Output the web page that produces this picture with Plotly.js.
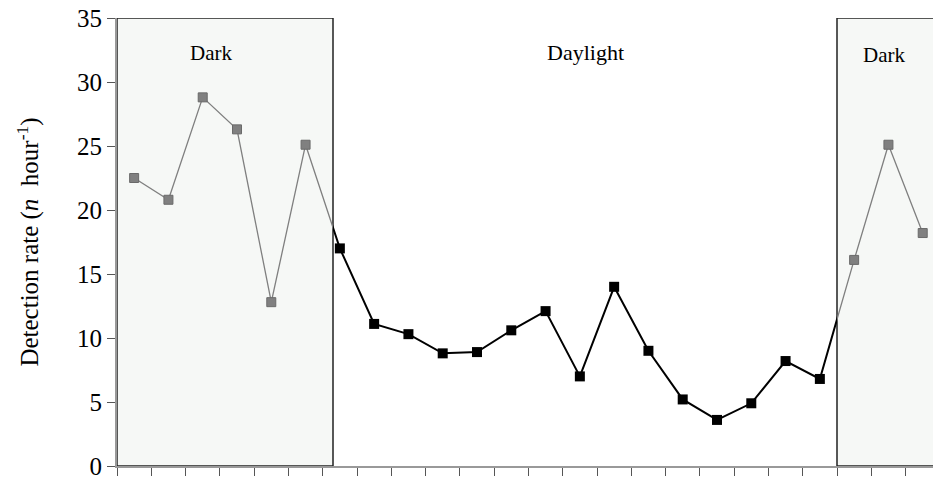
<!DOCTYPE html>
<html>
<head>
<meta charset="utf-8">
<script src="https://cdn.plot.ly/plotly-3.0.1.min.js"></script>
<style>html,body{margin:0;padding:0;background:#fff;}#chart{width:933px;height:481px;}</style>
</head>
<body>
<div id="chart"></div>
<script>
// Hourly detection rates (24 consecutive hours)
const darkStartValues = [22.5, 20.8, 28.8, 26.3, 12.8, 25.1];
const daylightValues = [17.0, 11.1, 10.3, 8.8, 8.9, 10.6, 12.1, 7.0, 14.0, 9.0, 5.2, 3.6, 4.9, 8.2, 6.8];
const darkEndValues = [16.1, 25.1, 18.2];
const periodLabels = ["Dark", "Daylight", "Dark"];
const yTickValues = [0, 5, 10, 15, 20, 25, 30, 35];

const allValues = darkStartValues.concat(daylightValues, darkEndValues);
const idx = allValues.map((_, i) => i);
const nStart = darkStartValues.length;
const nDay = daylightValues.length;
const dayFirst = nStart, dayLast = nStart + nDay - 1;

// boundaries of shaded (dark) periods in category units
const xMin = -0.5, xMax = 23.3;
const b1 = 5.8, b2 = 20.5;
const span = xMax - xMin;
const f1 = (b1 - xMin) / span, f2 = (b2 - xMin) / span;

const grayLine = {color: '#7f7f7f', width: 1.3};
const blackLine = {color: '#000', width: 2};

const traces = [
  // gray line, first dark period (clipped to its own sub-area)
  {x: idx.slice(0, nStart + 1), y: allValues.slice(0, nStart + 1), xaxis: 'x2', yaxis: 'y',
   mode: 'lines', line: grayLine, hoverinfo: 'skip'},
  // black line, daylight
  {x: idx.slice(dayFirst - 1, dayLast + 2), y: allValues.slice(dayFirst - 1, dayLast + 2), xaxis: 'x3', yaxis: 'y',
   mode: 'lines', line: blackLine, hoverinfo: 'skip'},
  // gray line, second dark period
  {x: idx.slice(dayLast), y: allValues.slice(dayLast), xaxis: 'x4', yaxis: 'y',
   mode: 'lines', line: grayLine, hoverinfo: 'skip'},
  // markers
  {x: idx.slice(0, nStart).concat(idx.slice(dayLast + 1)),
   y: darkStartValues.concat(darkEndValues), xaxis: 'x5', yaxis: 'y',
   mode: 'markers', cliponaxis: false,
   marker: {symbol: 'square', size: 9, color: '#808080', line: {color: '#6a6a6a', width: 1}}},
  {x: idx.slice(dayFirst, dayLast + 1), y: daylightValues, xaxis: 'x5', yaxis: 'y',
   mode: 'markers', cliponaxis: false,
   marker: {symbol: 'square', size: 10, color: '#000'}}
];

const tickBounds = [];
for (let i = 0; i < 24; i++) tickBounds.push(i - 0.5);

const serif = 'Liberation Serif, Times New Roman, serif';
const hidden = {visible: false, fixedrange: true, showgrid: false, zeroline: false, anchor: 'y'};

const layout = {
  width: 933, height: 481,
  margin: {l: 117, r: 0, t: 18, b: 15},
  paper_bgcolor: '#fff', plot_bgcolor: 'rgba(0,0,0,0)',
  showlegend: false,
  font: {family: serif, color: '#000'},
  xaxis: {domain: [0, 1], range: [xMin, xMax], showgrid: false, zeroline: false,
          tickmode: 'array', tickvals: tickBounds, ticktext: tickBounds.map(() => ''),
          ticks: 'outside', ticklen: 8, tickcolor: '#555', tickwidth: 1,
          showline: true, linecolor: '#999', linewidth: 2},
  xaxis2: Object.assign({domain: [0, f1], range: [xMin, b1]}, hidden),
  xaxis3: Object.assign({domain: [f1, f2], range: [b1, b2]}, hidden),
  xaxis4: Object.assign({domain: [f2, 1], range: [b2, xMax]}, hidden),
  xaxis5: Object.assign({domain: [0, 1], range: [xMin, xMax]}, hidden),
  yaxis: {range: [0, 35], tickvals: yTickValues, showgrid: false, zeroline: false,
          ticks: 'outside', ticklen: 8, tickcolor: '#555', tickwidth: 1,
          showline: true, linecolor: '#999', linewidth: 2,
          tickfont: {family: serif, size: 25, color: '#000'},
          title: {text: 'Detection rate (<i>n</i>  hour<sup>-1</sup>)', font: {family: serif, size: 25, color: '#000'}, standoff: 31}},
  shapes: [
    {type: 'rect', xref: 'x', yref: 'y', x0: xMin, x1: b1, y0: 0, y1: 35, layer: 'below',
     fillcolor: '#f6f8f6', line: {color: '#222', width: 1.5}},
    {type: 'rect', xref: 'x', yref: 'y', x0: b2, x1: xMax + 1, y0: 0, y1: 35, layer: 'below',
     fillcolor: '#f6f8f6', line: {color: '#222', width: 1.5}}
  ],
  annotations: [
    {x: 2.24, y: 32.3, xref: 'x', yref: 'y', text: periodLabels[0], showarrow: false, font: {family: serif, size: 21}},
    {x: 13.15, y: 32.3, xref: 'x', yref: 'y', text: periodLabels[1], showarrow: false, font: {family: serif, size: 22}},
    {x: 21.87, y: 32.1, xref: 'x', yref: 'y', text: periodLabels[2], showarrow: false, font: {family: serif, size: 21}}
  ]
};

Plotly.newPlot('chart', traces, layout, {staticPlot: true, displayModeBar: false});
</script>
</body>
</html>
